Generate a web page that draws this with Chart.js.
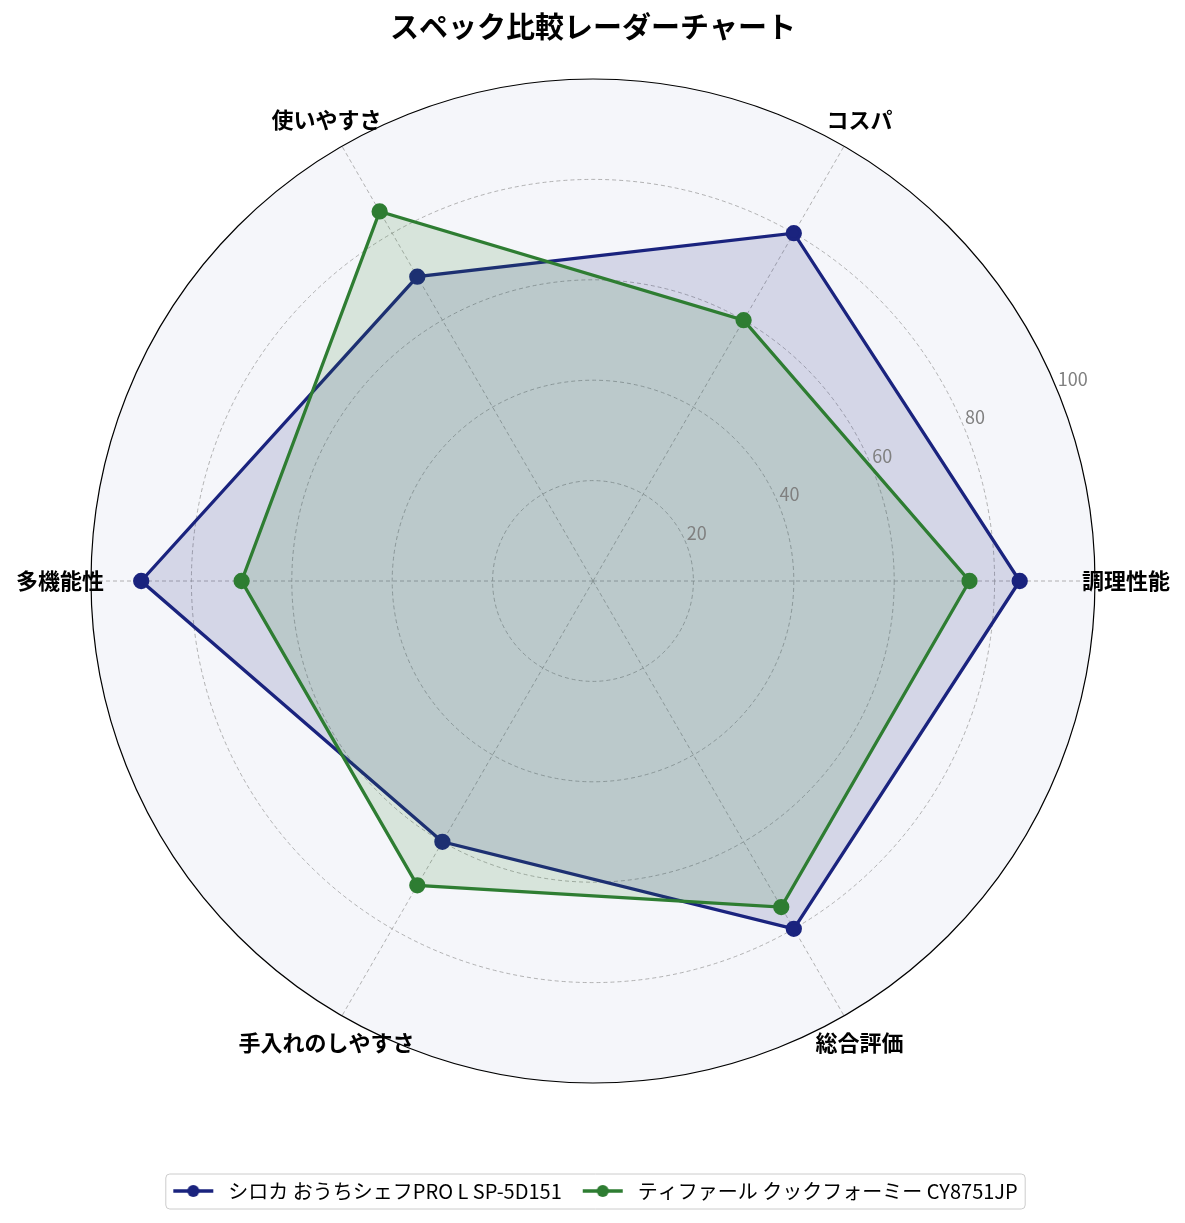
<!DOCTYPE html>
<html lang="ja">
<head>
<meta charset="utf-8">
<title>スペック比較レーダーチャート</title>
<script src="https://cdn.jsdelivr.net/npm/chart.js@4.4.1/dist/chart.umd.min.js"></script>
<style>
  html, body { margin: 0; padding: 0; background: #fff; }
  canvas { display: block; }
</style>
</head>
<body>
<canvas id="radar" width="1185" height="1223"></canvas>
<script>
// datos (orden original, empezando a la derecha y girando en sentido antihorario)
const categorias = ['調理性能', 'コスパ', '使いやすさ', '多機能性', '手入れのしやすさ', '総合評価'];
const nombresSeries = ['シロカ おうちシェフPRO L SP-5D151', 'ティファール クックフォーミー CY8751JP'];
const valoresShiroka = [85, 80, 70, 90, 60, 80];
const valoresTfal = [75, 60, 85, 70, 70, 75];
const marcasRadio = [20, 40, 60, 80, 100];

function loadPage() {
    const fuente = "'Noto Sans CJK JP', 'Noto Sans', sans-serif";
    Chart.defaults.font.family = fuente;

    // Chart.js va en sentido horario, asi que se invierte el orden
    const orden = [0, 5, 4, 3, 2, 1];
    const reordenar = arr => orden.map(i => arr[i]);

    function iconoLeyenda(color) {
        const c = document.createElement('canvas');
        c.width = 50;
        c.height = 16;
        const g = c.getContext('2d');
        g.strokeStyle = color;
        g.lineWidth = 3.3;
        g.beginPath();
        g.moveTo(5, 8);
        g.lineTo(45, 8);
        g.stroke();
        g.fillStyle = color;
        g.beginPath();
        g.arc(25, 8, 6, 0, Math.PI * 2);
        g.fill();
        return c;
    }

    const fondoPolar = {
        id: 'fondoPolar',
        beforeDraw(chart) {
            const s = chart.scales.r;
            const ctx = chart.ctx;
            ctx.save();
            ctx.fillStyle = '#f5f6fa';
            ctx.beginPath();
            ctx.arc(s.xCenter, s.yCenter, s.drawingArea, 0, Math.PI * 2);
            ctx.fill();
            ctx.restore();
        }
    };

    const textosPolares = {
        id: 'textosPolares',
        afterDatasetsDraw(chart) {
            const s = chart.scales.r;
            const ctx = chart.ctx;
            ctx.save();
            // etiquetas del radio a 22.5 grados
            const ang = 22.5 * Math.PI / 180;
            ctx.font = '18px ' + fuente;
            ctx.fillStyle = '#808080';
            ctx.textAlign = 'left';
            ctx.textBaseline = 'alphabetic';
            marcasRadio.forEach(v => {
                const d = s.getDistanceFromCenterForValue(v);
                const x = s.xCenter + d * Math.cos(ang);
                const y = s.yCenter - d * Math.sin(ang);
                ctx.fillText(String(v), x + 1, y - 3);
            });
            // nombres de los ejes
            ctx.font = 'bold 22px ' + fuente;
            ctx.fillStyle = '#000';
            ctx.textAlign = 'center';
            ctx.textBaseline = 'middle';
            chart.data.labels.forEach((lab, i) => {
                const p = s.getPointPositionForValue(i, 106.2);
                ctx.fillText(lab, p.x, p.y);
            });
            ctx.restore();
        }
    };

    const marcoLeyenda = {
        id: 'marcoLeyenda',
        afterDraw(chart) {
            const hb = chart.legend.legendHitBoxes;
            if (!hb || !hb.length) return;
            const primero = hb[0];
            const ultimo = hb[hb.length - 1];
            const x0 = primero.left - 3;
            const x1 = ultimo.left + ultimo.width + 7;
            const yc = primero.top + primero.height / 2;
            const ctx = chart.ctx;
            ctx.save();
            ctx.strokeStyle = '#cccccc';
            ctx.lineWidth = 1;
            ctx.beginPath();
            ctx.roundRect(x0 + 0.5, yc - 17.5 + 0.5, x1 - x0, 35, 4);
            ctx.stroke();
            ctx.restore();
        }
    };

    const data = {
        labels: reordenar(categorias),
        datasets: [
            {
                label: nombresSeries[0],
                data: reordenar(valoresShiroka),
                borderColor: '#1a237e',
                backgroundColor: 'rgba(26, 35, 126, 0.15)',
                pointBackgroundColor: '#1a237e',
                pointBorderColor: '#1a237e',
                pointRadius: 6.5,
                borderWidth: 3.3,
                fill: true,
                order: 2
            },
            {
                label: nombresSeries[1],
                data: reordenar(valoresTfal),
                borderColor: '#2e7d32',
                backgroundColor: 'rgba(46, 125, 50, 0.15)',
                pointBackgroundColor: '#2e7d32',
                pointBorderColor: '#2e7d32',
                pointRadius: 6.5,
                borderWidth: 3.3,
                fill: true,
                order: 1
            }
        ]
    };

    const config = {
        type: 'radar',
        data: data,
        options: {
            responsive: false,
            animation: false,
            layout: {
                padding: { left: 1, right: 0, top: 0, bottom: 12 }
            },
            plugins: {
                title: {
                    display: true,
                    text: 'スペック比較レーダーチャート',
                    color: '#000',
                    font: { size: 29, weight: 'bold' },
                    padding: { top: 10, bottom: 34.2 }
                },
                legend: {
                    position: 'bottom',
                    title: {
                        display: true,
                        text: ' ',
                        font: { size: 10 },
                        padding: { top: 70, bottom: 0 }
                    },
                    labels: {
                        usePointStyle: true,
                        pointStyleWidth: 50,
                        padding: 16,
                        color: '#000',
                        font: { size: 20 },
                        generateLabels(chart) {
                            return chart.data.datasets.map((ds, i) => ({
                                text: ds.label,
                                pointStyle: iconoLeyenda(ds.borderColor),
                                fillStyle: ds.borderColor,
                                strokeStyle: ds.borderColor,
                                fontColor: '#000',
                                lineWidth: 0,
                                hidden: false,
                                datasetIndex: i
                            }));
                        }
                    }
                },
                tooltip: { enabled: false }
            },
            scales: {
                r: {
                    min: 0,
                    max: 100,
                    startAngle: 90,
                    ticks: { display: false, stepSize: 20 },
                    pointLabels: { display: false },
                    grid: {
                        circular: true,
                        color: c => (c.tick && c.tick.value === 100) ? '#000' : '#a0a0a0',
                        lineWidth: c => (c.tick && c.tick.value === 100) ? 1.2 : 0.8
                    },
                    border: {
                        dash: c => (c.tick && c.tick.value === 100) ? [] : [4, 3]
                    },
                    angleLines: {
                        color: '#a0a0a0',
                        lineWidth: 0.8,
                        borderDash: [4, 3]
                    }
                }
            }
        },
        plugins: [fondoPolar, textosPolares, marcoLeyenda]
    };

    new Chart(document.getElementById('radar').getContext('2d'), config);
}
window.addEventListener("DOMContentLoaded", loadPage);
</script>
</body>
</html>
